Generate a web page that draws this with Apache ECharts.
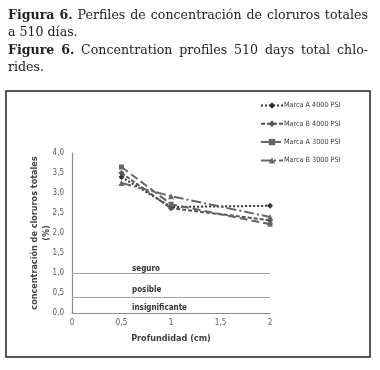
<!DOCTYPE html>
<html><head><meta charset="utf-8">
<script src="https://cdn.jsdelivr.net/npm/echarts@6/dist/echarts.min.js"></script>
<style>html,body{margin:0;padding:0;background:#fff}#c{width:380px;height:370px}</style>
</head><body><div id="c"></div>
<script>
// ---- data ----
const depths = [0.5, 1, 2];
const seriesNames = ['Marca A 4000 PSI', 'Marca B 4000 PSI', 'Marca A 3000 PSI', 'Marca B 3000 PSI'];
const marcaA4000 = [3.40, 2.65, 2.68];
const marcaB4000 = [3.50, 2.62, 2.32];
const marcaA3000 = [3.65, 2.72, 2.22];
const marcaB3000 = [3.25, 2.92, 2.40];
const thresholdValues = [1.0, 0.4, 0];
const thresholdLabels = ['seguro', 'posible', 'insignificante'];
const yTickLabels = ['0,0', '0,5', '1,0', '1,5', '2,0', '2,5', '3,0', '3,5', '4,0'];
const xTickLabels = ['0', '0,5', '1', '1,5', '2'];
const titleLines = [
  ['Figura 6.', 'Perfiles de concentración de cloruros totales', true],
  ['', 'a 510 días.', false],
  ['Figure 6.', 'Concentration profiles 510 days total chlo-', true],
  ['', 'rides.', false]
];
const xAxisName = 'Profundidad (cm)';
const yAxisName = 'concentración de cloruros totales\n(%)';

// ---- styles ----
const narrow = "'DejaVu Sans Condensed', 'Liberation Sans Narrow', 'Roboto', sans-serif";
const seriesValues = [marcaA4000, marcaB4000, marcaA3000, marcaB3000];
const styles = [
  { type: 'dotted', symbol: 'diamond', color: '#333', size: 6 },
  { type: [4, 2], symbol: 'diamond', color: '#555', size: 6 },
  { type: [8, 4], symbol: 'rect', color: '#666', size: 5 },
  { type: [10, 3, 2, 3], symbol: 'triangle', color: '#666', size: 6 }
];
const thresholdLabelDist = [[60, 0], [60, 3], [60, 1]];

const series = seriesNames.map((name, i) => ({
  name: name,
  type: 'line',
  data: depths.map((d, j) => [d, seriesValues[i][j]]),
  symbol: styles[i].symbol,
  symbolSize: styles[i].size,
  lineStyle: { type: styles[i].type, width: 2, color: styles[i].color },
  itemStyle: { color: styles[i].color },
  z: 5
}));

series.push({
  type: 'line',
  data: [],
  silent: true,
  markLine: {
    silent: true,
    symbol: 'none',
    lineStyle: { type: 'solid', color: '#a6a6a6', width: 1.2 },
    label: {
      position: 'insideStartTop',
      fontFamily: narrow,
      fontWeight: 'bold',
      fontSize: 8,
      color: '#333'
    },
    data: thresholdValues.map((v, i) => ({
      yAxis: v,
      label: { formatter: thresholdLabels[i], distance: thresholdLabelDist[i] },
      lineStyle: v === 0 ? { color: 'rgba(0,0,0,0)' } : {}
    }))
  }
});

// ---- title: justified serif lines ----
const fs = 12.6;
const normalFont = fs + "px 'DejaVu Serif', serif";
const boldFont = 'bold ' + fs + "px 'DejaVu Serif', serif";
const ctx = document.createElement('canvas').getContext('2d');
function w(t, f) { ctx.font = f; return ctx.measureText(t).width; }
const titleGraphics = [];
const leftX = 8, rightX = 368;
titleLines.forEach((ln, i) => {
  const top = 9 + i * 17.5;
  const words = [];
  if (ln[0]) ln[0].split(' ').forEach(t => words.push({ t, f: boldFont }));
  ln[1].split(' ').forEach(t => words.push({ t, f: normalFont }));
  const widths = words.map(o => w(o.t, o.f));
  const total = widths.reduce((a, b) => a + b, 0);
  const gap = ln[2] ? (rightX - leftX - total) / (words.length - 1) : w(' ', normalFont);
  let x = leftX;
  words.forEach((o, k) => {
    titleGraphics.push({ type: 'text', x: x, y: top, silent: true,
      style: { text: o.t, font: o.f, fill: '#222', textVerticalAlign: 'top' } });
    x += widths[k] + gap;
  });
});

const chart = echarts.init(document.getElementById('c'));
chart.setOption({
  backgroundColor: '#fff',
  animation: false,
  graphic: titleGraphics.concat([{
    type: 'rect',
    shape: { x: 6, y: 91, width: 364, height: 266 },
    style: { fill: 'none', stroke: '#222', lineWidth: 1.5 },
    silent: true
  }]),
  grid: { left: 72, right: 110, top: 153, bottom: 57 },
  legend: {
    orient: 'vertical',
    left: 255,
    top: 96,
    itemWidth: 22,
    itemHeight: 8,
    itemGap: 9.3,
    data: seriesNames,
    textStyle: { fontFamily: narrow, fontSize: 7.2, color: '#404040', padding: [0, 0, 0, -4], lineHeight: 9 }
  },
  xAxis: {
    type: 'value', min: 0, max: 2, interval: 0.5,
    name: xAxisName, nameLocation: 'middle', nameGap: 21,
    nameTextStyle: { fontFamily: narrow, fontWeight: 'bold', fontSize: 9, color: '#404040' },
    axisLine: { lineStyle: { color: '#8c8c8c', width: 1.2 } },
    axisTick: { show: false },
    splitLine: { show: false },
    axisLabel: { formatter: v => xTickLabels[Math.round(v / 0.5)], fontFamily: narrow, fontSize: 8, color: '#595959', margin: 6 }
  },
  yAxis: {
    type: 'value', min: 0, max: 4, interval: 0.5,
    name: yAxisName, nameLocation: 'middle', nameGap: 19, nameRotate: 90, nameMoveOverlap: false,
    nameTextStyle: { fontFamily: narrow, fontWeight: 'bold', fontSize: 9, color: '#404040', lineHeight: 12 },
    axisLine: { show: true, lineStyle: { color: '#8c8c8c', width: 1.2 } },
    axisTick: { show: false },
    splitLine: { show: false },
    axisLabel: { formatter: v => yTickLabels[Math.round(v / 0.5)], fontFamily: narrow, fontSize: 8, color: '#595959', margin: 8 }
  },
  series: series
});
</script>
</body></html>
